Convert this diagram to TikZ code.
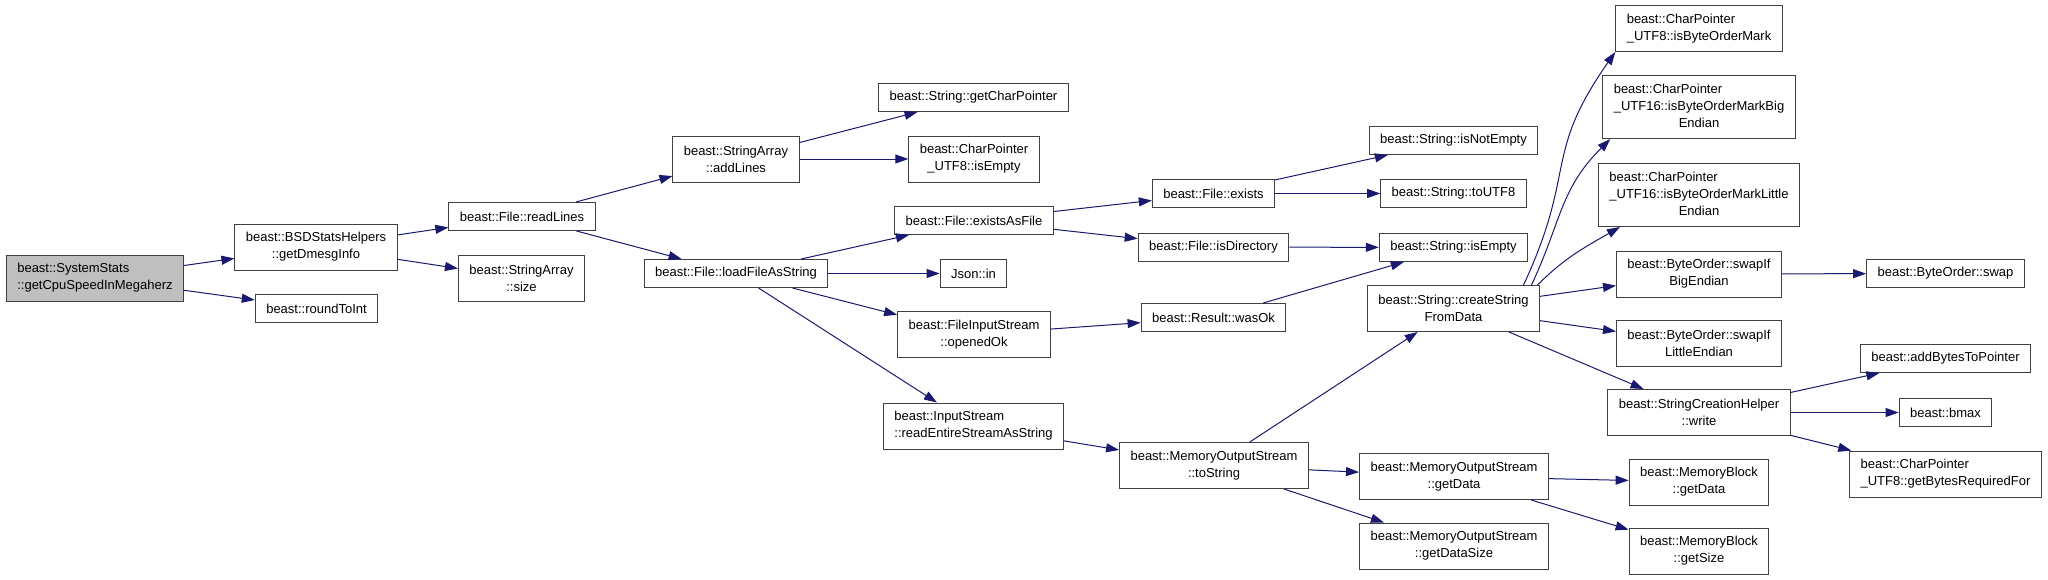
\documentclass[tikz,border=0pt]{standalone}
\usepackage{fontspec}
\setmainfont{Liberation Sans}
\usetikzlibrary{arrows.meta}
\definecolor{edgeblue}{HTML}{191970}
\definecolor{rootgray}{HTML}{BFBFBF}
\tikzset{
  fn/.style={draw=black!75, line width=1pt, fill=white, inner xsep=11pt, inner ysep=2pt,
    minimum height=28pt, font=\fontsize{13}{17}\selectfont, align=center},
  fn2/.style={fn, minimum height=46pt},
  fn3/.style={fn, minimum height=63pt},
  root/.style={fn2, fill=rootgray},
  call/.style={draw=edgeblue, line width=1pt, -{Triangle[length=13pt,width=9pt]}},
}
\newcommand{\threelab}[3]{\begin{tabular}{@{}l@{}}#1\\#2\\\multicolumn{1}{@{}c@{}}{#3}\end{tabular}}
\begin{document}
\begin{tikzpicture}[x=1pt, y=-1pt]
  \useasboundingbox (-0.5,-0.5) rectangle (2047.5,578.5);
  % callers, left to right
  \node[root, align=left] (sys) at (94.5,277.5) {beast::SystemStats\\::getCpuSpeedInMegaherz};
  \node[fn2] (bsd) at (315.5,246.5) {beast::BSDStatsHelpers\\::getDmesgInfo};
  \node[fn] (round) at (316,308) {beast::roundToInt};
  \node[fn] (readl) at (521.5,216) {beast::File::readLines};
  \node[fn2] (sasize) at (521,277.5) {beast::StringArray\\::size};
  \node[fn2] (addl) at (735.5,158.5) {beast::StringArray\\::addLines};
  \node[fn] (loadf) at (735.5,273) {beast::File::loadFileAsString};
  \node[fn] (getcp) at (973,97) {beast::String::getCharPointer};
  \node[fn2] (u8empty) at (973.5,158.5) {beast::CharPointer\\\_UTF8::isEmpty};
  \node[fn] (existsf) at (973.5,220) {beast::File::existsAsFile};
  \node[fn] (jsonin) at (973,273) {Json::in};
  \node[fn2] (openok) at (973.5,334) {beast::FileInputStream\\::openedOk};
  \node[fn2, align=left] (readall) at (973,425.5) {beast::InputStream\\::readEntireStreamAsString};
  \node[fn] (exists) at (1213,193) {beast::File::exists};
  \node[fn] (isdir) at (1213,246.5) {beast::File::isDirectory};
  \node[fn] (wasok) at (1213,317) {beast::Result::wasOk};
  \node[fn2] (tostr) at (1213.5,465) {beast::MemoryOutputStream\\::toString};
  \node[fn] (notempty) at (1453,140) {beast::String::isNotEmpty};
  \node[fn] (toutf8) at (1453,193) {beast::String::toUTF8};
  \node[fn] (isempty) at (1453,247) {beast::String::isEmpty};
  \node[fn2] (create) at (1453,308) {beast::String::createString\\FromData};
  \node[fn2] (mosdata) at (1453.5,476) {beast::MemoryOutputStream\\::getData};
  \node[fn2] (mossize) at (1453.5,545.5) {beast::MemoryOutputStream\\::getDataSize};
  \node[fn2, align=left] (bom8) at (1698.5,28) {beast::CharPointer\\\_UTF8::isByteOrderMark};
  \node[fn3] (bombig) at (1698.5,106.5) {\threelab{beast::CharPointer}{\_UTF16::isByteOrderMarkBig}{Endian}};
  \node[fn3] (bomlit) at (1698.5,194.5) {\threelab{beast::CharPointer}{\_UTF16::isByteOrderMarkLittle}{Endian}};
  \node[fn2] (swapbig) at (1698.5,273.5) {beast::ByteOrder::swapIf\\BigEndian};
  \node[fn2] (swaplit) at (1698.5,342.5) {beast::ByteOrder::swapIf\\LittleEndian};
  \node[fn2] (write) at (1698.5,412) {beast::StringCreationHelper\\::write};
  \node[fn2] (mbdata) at (1698.5,481.5) {beast::MemoryBlock\\::getData};
  \node[fn2] (mbsize) at (1698.5,550.5) {beast::MemoryBlock\\::getSize};
  \node[fn] (swap) at (1945,273) {beast::ByteOrder::swap};
  \node[fn] (addbytes) at (1945,358) {beast::addBytesToPointer};
  \node[fn] (bmax) at (1945,412) {beast::bmax};
  \node[fn2, align=left] (bytesreq) at (1945,473.5) {beast::CharPointer\\\_UTF8::getBytesRequiredFor};
  % straight calls
  \foreach \a/\b in {sys/bsd, sys/round, bsd/readl, bsd/sasize, readl/addl, readl/loadf,
      addl/getcp, addl/u8empty, loadf/existsf, loadf/jsonin, loadf/openok, loadf/readall,
      existsf/exists, existsf/isdir, openok/wasok, readall/tostr, exists/notempty,
      exists/toutf8, isdir/isempty, wasok/isempty, tostr/create, tostr/mosdata,
      tostr/mossize, mosdata/mbdata, mosdata/mbsize, create/swapbig, create/swaplit,
      create/write, swapbig/swap, write/addbytes, write/bmax, write/bytesreq}
    \draw[call] (\a) -- (\b);
  % bent calls out of createStringFromData
  \draw[call] ([xshift=70pt]create.north) to[out=65, in=235, looseness=1.3] (bom8.south west);
  \draw[call] ([xshift=78pt]create.north) to[out=65, in=225, looseness=1.1] ([xshift=8pt]bombig.south west);
  \draw[call] ([xshift=84pt]create.north) to[out=45, in=210] ([xshift=22pt]bomlit.south west);
\end{tikzpicture}
\end{document}
